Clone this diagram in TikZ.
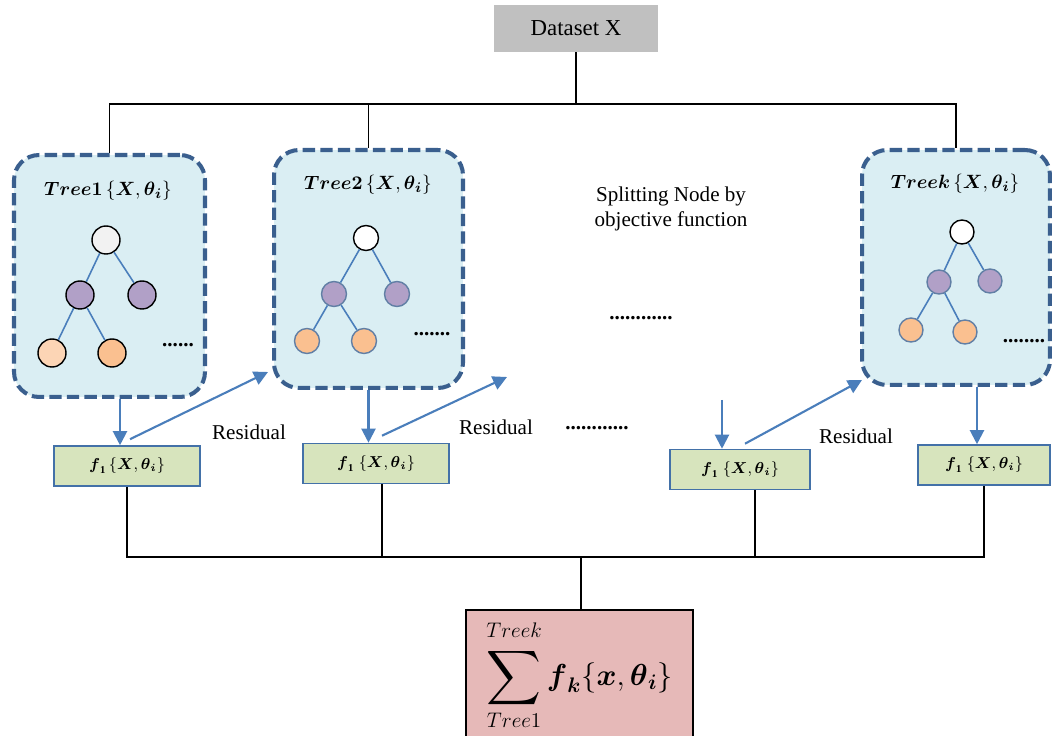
\documentclass[tikz,border=0pt]{standalone}
\usepackage{amsmath}
\usepackage{fontspec}
\setmainfont{Liberation Serif}
\usetikzlibrary{arrows.meta,positioning,calc}
\definecolor{DataGray}{HTML}{C0C0C0}
\definecolor{TreeNavy}{HTML}{3A5F8E}
\definecolor{TreeFill}{HTML}{DAEEF3}
\definecolor{LinkBlue}{HTML}{4A7EBB}
\definecolor{LeafPurple}{HTML}{B1A0C7}
\definecolor{LeafPeach}{HTML}{FAC090}
\definecolor{LeafLight}{HTML}{FCD5B5}
\definecolor{FunFill}{HTML}{D7E4BD}
\definecolor{SumFill}{HTML}{E6B9B8}
\tikzset{treebox/.style={draw=TreeNavy,line width=2.3pt,dash pattern=on 7pt off 3pt,rounded corners=0.5cm,fill=TreeFill},
  funbox/.style={draw=LinkBlue!90!black,line width=0.9pt,fill=FunFill,minimum height=0.8cm,font=\fontsize{9}{11}\selectfont},
  down/.style={-{Triangle[width=8pt,length=8pt]},line width=1.2pt,LinkBlue},
  res/.style={-{Triangle[width=8pt,length=8pt]},line width=1.2pt,LinkBlue}}

\begin{document}
\begin{tikzpicture}[x=0.02cm,y=-0.02cm,
    sp/.style={circle,draw,line width=0.8pt,inner sep=0pt},
    edge/.style={LinkBlue,line width=0.9pt},
    ttl/.style={font=\fontsize{11}{13}\selectfont},
    dots/.style={font=\fontsize{12}{14}\selectfont\bfseries,inner sep=0pt},
    txt/.style={font=\fontsize{12}{14}\selectfont,align=center}]
\useasboundingbox (0,0) rectangle (1052,736);

% dataset and top bus
\node[fill=DataGray,minimum width=3.28cm,minimum height=0.94cm,font=\fontsize{13}{15}\selectfont] (data) at (576,28.5) {Dataset X};
\coordinate (topbus) at (576,104);

% trees
\node[treebox,minimum width=3.82cm,minimum height=4.84cm] (t1) at (109.5,276) {};
\node[treebox,minimum width=3.78cm,minimum height=4.76cm] (t2) at (368.5,269) {};
\node[treebox,minimum width=3.76cm,minimum height=4.7cm] (tk) at (956,267.5) {};

\draw[line width=0.9pt] (data.south) -- (topbus);
\draw[line width=0.9pt] (t1.north) |- (tk.north |- topbus) -- (tk.north);
\draw[line width=0.9pt] (t2.north) -- (t2.north |- topbus);

\node[ttl] (t1ttl) at (108,191) {$\boldsymbol{Tree1}\,\{\boldsymbol{X},\boldsymbol{\theta}_{\boldsymbol{i}}\}$};
\node[ttl] (t2ttl) at (368,185) {$\boldsymbol{Tree2}\,\{\boldsymbol{X},\boldsymbol{\theta}_{\boldsymbol{i}}\}$};
\node[ttl] (tkttl) at (955,184) {$\boldsymbol{Treek}\,\{\boldsymbol{X},\boldsymbol{\theta}_{\boldsymbol{i}}\}$};

% first tree
\node[sp,minimum size=0.56cm,fill=black!5] (t1r) at (106,240) {};
\node[sp,minimum size=0.56cm,fill=LeafPurple] (t1a) at (80,295) {};
\node[sp,minimum size=0.56cm,fill=LeafPurple] (t1b) at (142,295) {};
\node[sp,minimum size=0.56cm,fill=LeafLight] (t1c) at (52,353) {};
\node[sp,minimum size=0.56cm,fill=LeafPeach] (t1d) at (112,353) {};
\draw[edge] (t1r) -- (t1a);
\draw[edge] (t1r) -- (t1b);
\draw[edge] (t1a) -- (t1c);
\draw[edge] (t1a) -- (t1d);
\node[dots] (t1dots) at (178,345) {......};

% second tree
\node[sp,minimum size=0.5cm,fill=white] (t2r) at (366,238) {};
\node[sp,minimum size=0.5cm,draw=TreeNavy!80,fill=LeafPurple] (t2a) at (334,294) {};
\node[sp,minimum size=0.5cm,draw=TreeNavy!80,fill=LeafPurple] (t2b) at (397,294) {};
\node[sp,minimum size=0.5cm,draw=TreeNavy!80,fill=LeafPeach] (t2c) at (307,341) {};
\node[sp,minimum size=0.5cm,draw=TreeNavy!80,fill=LeafPeach] (t2d) at (364,341) {};
\draw[edge] (t2r) -- (t2a);
\draw[edge] (t2r) -- (t2b);
\draw[edge] (t2a) -- (t2c);
\draw[edge] (t2a) -- (t2d);
\node[dots] (t2dots) at (432,334) {.......};

% last tree
\node[sp,minimum size=0.48cm,fill=white] (tkr) at (962,232) {};
\node[sp,minimum size=0.48cm,draw=TreeNavy!80,fill=LeafPurple] (tka) at (939,282) {};
\node[sp,minimum size=0.48cm,draw=TreeNavy!80,fill=LeafPurple] (tkb) at (990,281) {};
\node[sp,minimum size=0.48cm,draw=TreeNavy!80,fill=LeafPeach] (tkc) at (911,330) {};
\node[sp,minimum size=0.48cm,draw=TreeNavy!80,fill=LeafPeach] (tkd) at (965,332) {};
\draw[edge] (tkr) -- (tka);
\draw[edge] (tkr) -- (tkb);
\draw[edge] (tka) -- (tkc);
\draw[edge] (tka) -- (tkd);
\node[dots] (tkdots) at (1024,341) {........};

\node[txt] (split) at (671,209) {Splitting Node by\\objective function};
\node[dots] (gapdots) at (641,318) {............};
\node[dots] (gapdots2) at (597,428) {............};

% tree outputs
\node[funbox,minimum width=2.92cm] (f1) at (127,466) {$\boldsymbol{f}_{\mathbf{1}}\,\{\boldsymbol{X},\boldsymbol{\theta}_{\boldsymbol{i}}\}$};
\node[funbox,minimum width=2.92cm] (f2) at (376,463.5) {$\boldsymbol{f}_{\mathbf{1}}\;\{\boldsymbol{X},\boldsymbol{\theta}_{\boldsymbol{i}}\}$};
\node[funbox,minimum width=2.8cm] (f3) at (740,469.5) {$\boldsymbol{f}_{\mathbf{1}}\;\{\boldsymbol{X},\boldsymbol{\theta}_{\boldsymbol{i}}\}$};
\node[funbox,minimum width=2.64cm] (f4) at (984,465) {$\boldsymbol{f}_{\mathbf{1}}\;\{\boldsymbol{X},\boldsymbol{\theta}_{\boldsymbol{i}}\}$};

\draw[down] ([xshift=0.21cm]t1.south) -- ([xshift=0.21cm]t1.south |- f1.north);
\draw[down] (t2.south) -- (t2.south |- f2.north);
\draw[down] ([xshift=0.42cm]tk.south) -- ([xshift=0.42cm]tk.south |- f4.north);
\coordinate (f3in) at (722,400);
\draw[down] (f3in) -- (f3in |- f3.north);

% residual hand-over
\coordinate (r1) at (268,372);
\coordinate (r2) at (507,377);
\coordinate (r3) at (862,380);
\draw[res] ([xshift=0.06cm,yshift=0.12cm]f1.north) -- (r1);
\draw[res] ([xshift=0.12cm,yshift=0.14cm]f2.north) -- (r2);
\draw[res] ([xshift=0.1cm,yshift=0.1cm]f3.north) -- (r3);
\node[txt] (res1) at (249,432) {Residual};
\node[txt] (res2) at (496,427) {Residual};
\node[txt] (res3) at (856,436) {Residual};

% sum of trees
\node[draw,line width=0.9pt,fill=SumFill,minimum width=4.54cm,minimum height=2.6cm,font=\fontsize{18}{22}\selectfont] (sum) at (579.5,675)
  {$\mathop{\vcenter{\hbox{\scalebox{1.25}{$\displaystyle\sum$}}}}\limits_{Tree1}^{Treek\rule[-4pt]{0pt}{0pt}}\boldsymbol{f}_{\boldsymbol{k}}\{\boldsymbol{x},\boldsymbol{\theta}_{\boldsymbol{i}}\}$};
\coordinate (botbus) at (581,557);
\draw[line width=0.9pt] (f1.south) |- (f4.south |- botbus) -- (f4.south);
\draw[line width=0.9pt] ([xshift=0.12cm]f2.south) -- ([xshift=0.12cm]f2.south |- botbus);
\draw[line width=0.9pt] ([xshift=0.3cm]f3.south) -- ([xshift=0.3cm]f3.south |- botbus);
\draw[line width=0.9pt] (botbus) -- (sum.north -| botbus);
\end{tikzpicture}
\end{document}
